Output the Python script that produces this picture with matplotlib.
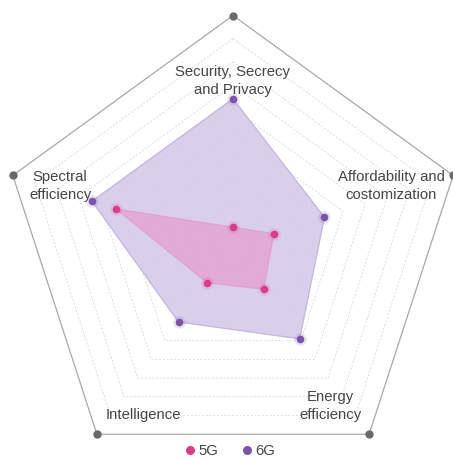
import numpy as np
import matplotlib
matplotlib.use("Agg")
import matplotlib.pyplot as plt
from matplotlib.lines import Line2D

plt.rcParams['font.family'] = ['Liberation Sans', 'DejaVu Sans']

categories = ["Security, Secrecy\nand Privacy", "Affordability and\ncostomization",
              "Energy\nefficiency", "Intelligence", "Spectral\nefficiency"]
values_5g = [0.85, 1.85, 2.25, 1.9, 5.3]
values_6g = [6.4, 4.15, 4.9, 4.0, 6.4]
levels = [1, 2, 3, 4, 5, 6, 7, 8, 9]
rmax = 10

W, H = 453, 459
fig = plt.figure(figsize=(W / 100, H / 100), dpi=100)
cx, cy, R = 233, 247, 231.5
ax = fig.add_axes([(cx - R) / W, (H - cy - R) / H, 2 * R / W, 2 * R / H], projection='polar')
ax.set_theta_zero_location('N')
ax.set_theta_direction(-1)
ax.set_ylim(0, rmax)
ax.axis('off')

n = len(categories)
theta = np.linspace(0, 2 * np.pi, n, endpoint=False)
tc = np.append(theta, theta[0])

for lv in levels:
    ax.plot(tc, [lv] * (n + 1), color='#d9d9d9', lw=0.6, ls=(0, (2.5, 2)), zorder=1)
ax.plot(tc, [rmax] * (n + 1), color='#a8a8a8', lw=0.9, zorder=2, clip_on=False)
ax.plot(theta, [rmax] * n, 'o', color='#6a6a6a', ms=5, zorder=3, clip_on=False)

c6, c5 = '#7b55ad', '#d93d8a'
v6 = np.append(values_6g, values_6g[0])
v5 = np.append(values_5g, values_5g[0])
ax.fill(tc, v6, color='#d3c7e8', alpha=0.85, zorder=4)
ax.plot(tc, v6, color='#c3b3de', lw=0.7, zorder=4)
ax.fill(tc, v5, color='#e4a2d0', alpha=0.8, zorder=5)
ax.plot(tc, v5, color='#e2a0cc', lw=0.5, zorder=5)
for v, c in ((values_6g, c6), (values_5g, c5)):
    ax.plot(theta, v, 'o', color=c, ms=9, alpha=0.15, mec='none', zorder=6)
    ax.plot(theta, v, 'o', color=c, ms=5.5, mec='none', zorder=7)

label_pos = [(233, 81), (391, 186), (330, 406), (143, 415), (60, 186)]
for lab, (x, y) in zip(categories, label_pos):
    fig.text(x / W, 1 - y / H, lab, ha='center', va='center', fontsize=10.7,
             color='#454545', linespacing=1.3)

handles = [Line2D([], [], marker='o', ls='none', color=c5, ms=6.5, mec='none'),
           Line2D([], [], marker='o', ls='none', color=c6, ms=6.5, mec='none')]
fig.legend(handles, ['5G', '6G'], loc='center', bbox_to_anchor=(0.505, 1 - 451 / H),
           ncol=2, frameon=False, fontsize=10.7, handletextpad=0.1, columnspacing=1.4,
           handlelength=1.0, labelcolor='#454545')

fig.savefig('out.png', dpi=100, facecolor='white')
